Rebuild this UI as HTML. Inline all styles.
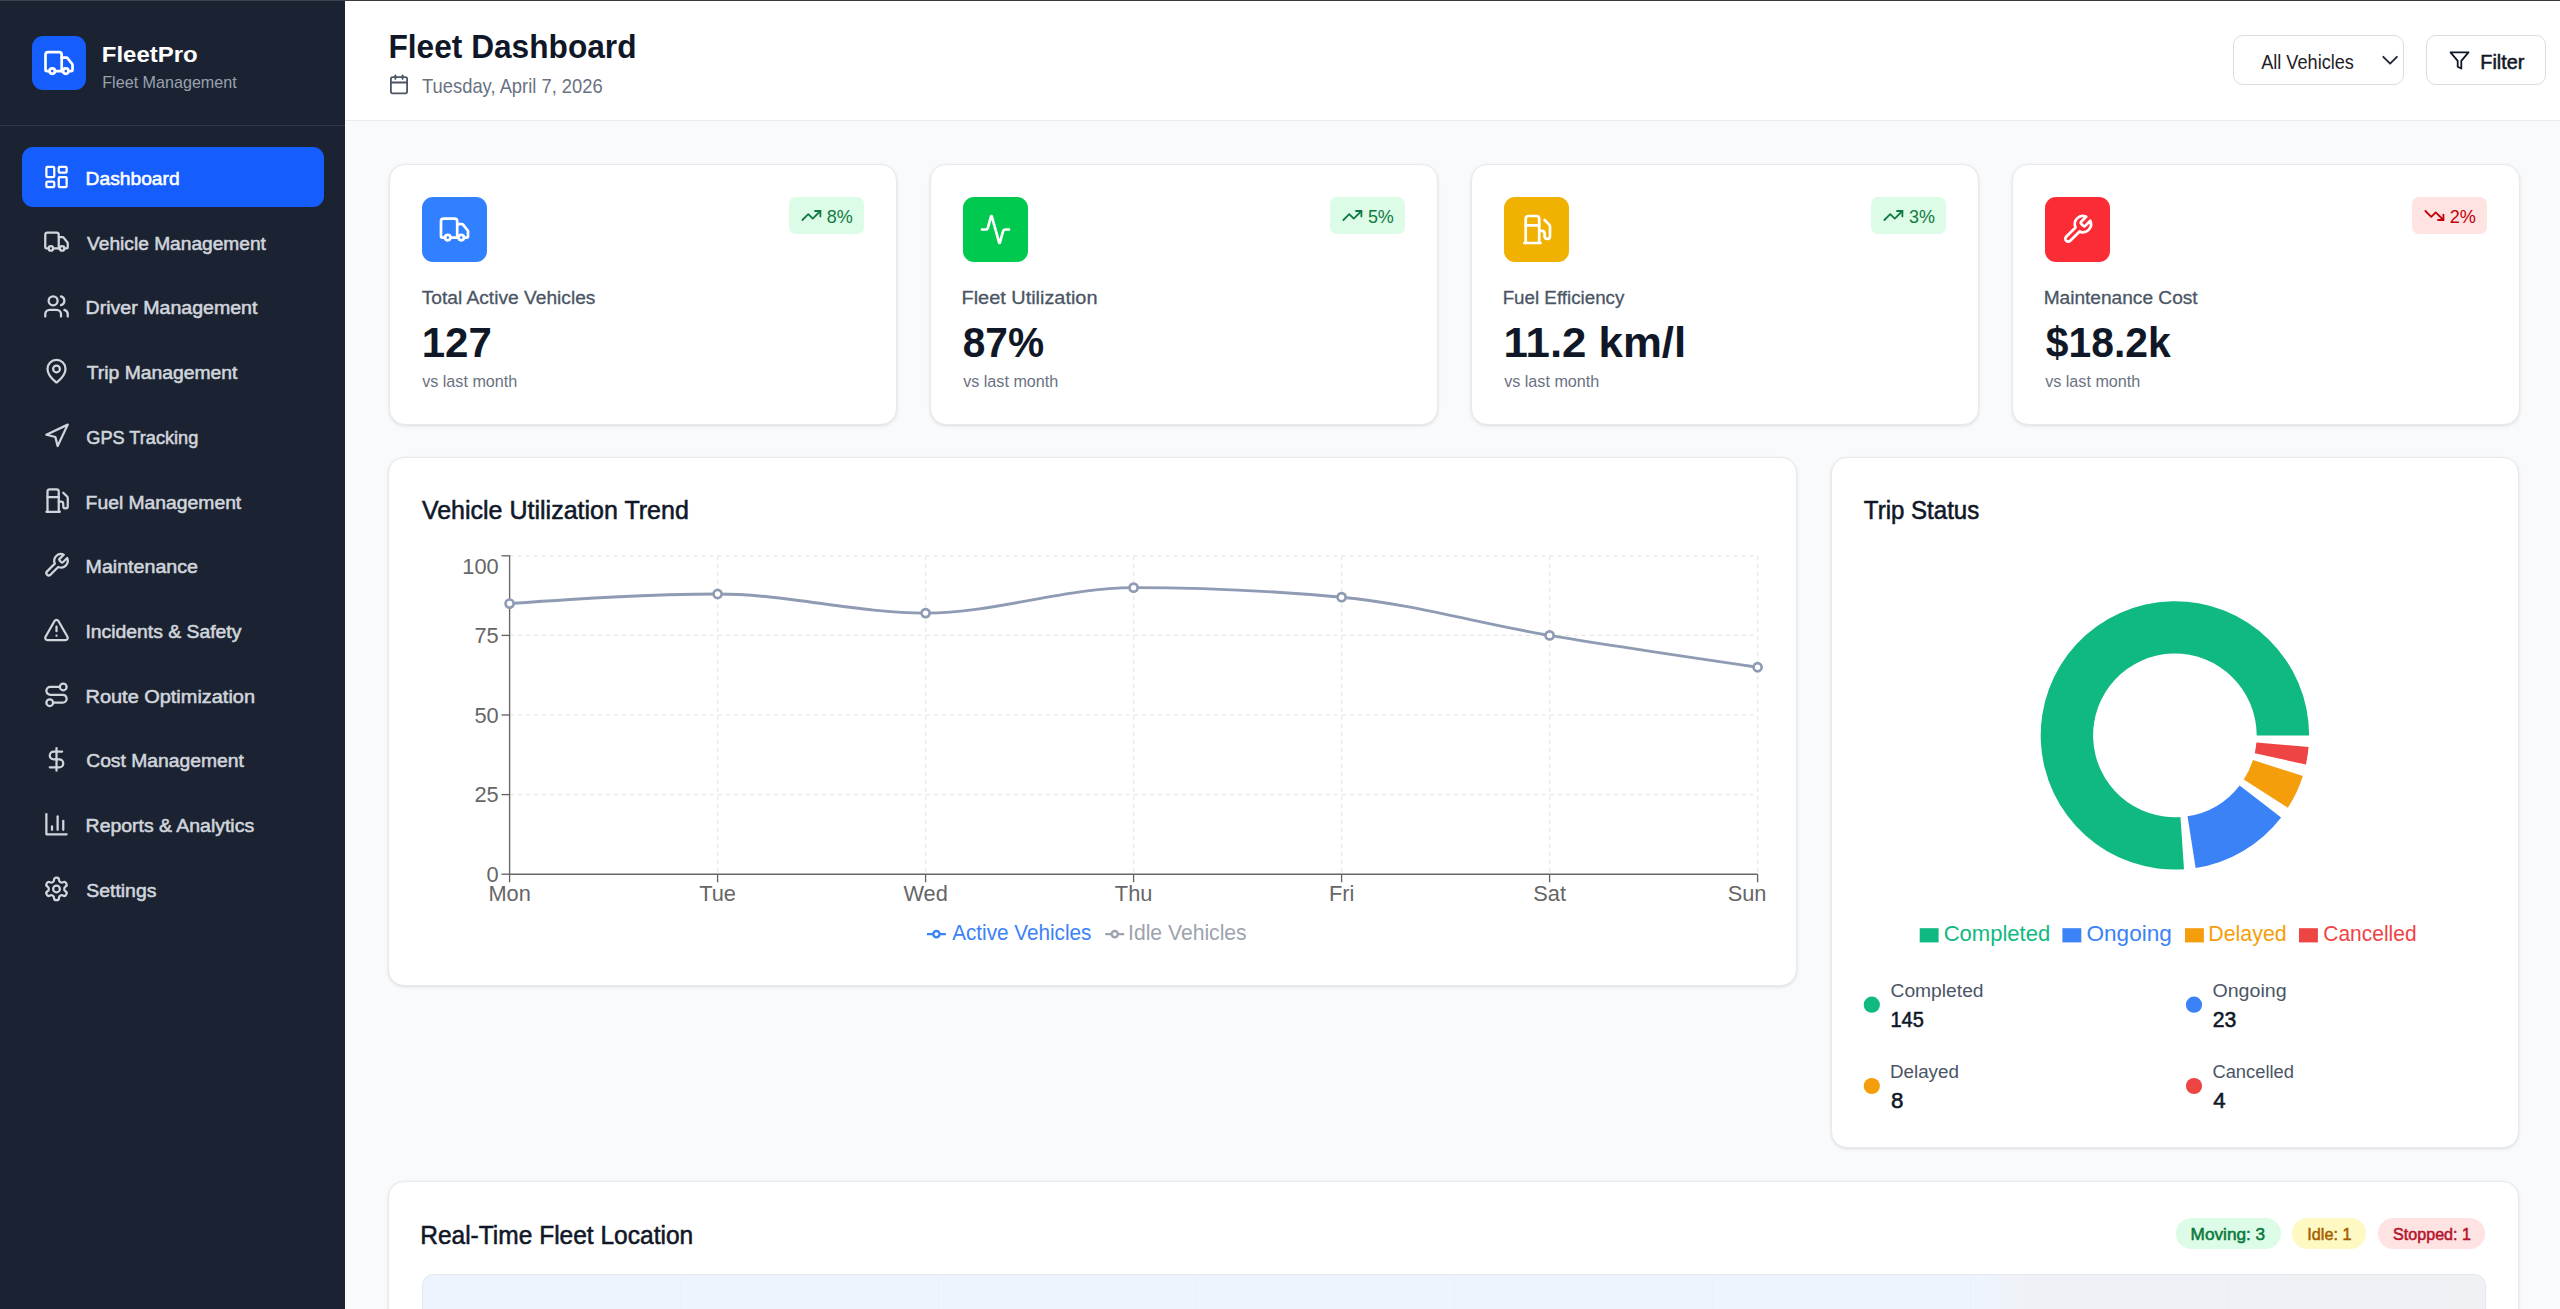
<!DOCTYPE html>
<html><head><meta charset="utf-8"><title>FleetPro - Fleet Dashboard</title>
<style>
html,body{margin:0;padding:0;width:2560px;height:1309px;overflow:hidden;background:#f9fafb}
.a{position:absolute}
svg#o{position:absolute;left:0;top:0;font-family:"Liberation Sans",Arial,sans-serif}
</style></head><body>
<div class="a" style="left:0px;top:0px;width:345px;height:1309px;background:#1b2332"></div>
<div class="a" style="left:0px;top:125px;width:345px;height:1px;background:#2e3846"></div>
<div class="a" style="left:0px;top:0px;width:345px;height:1px;background:#3c4250"></div>
<div class="a" style="left:345px;top:0px;width:2215px;height:120px;background:#ffffff"></div>
<div class="a" style="left:345px;top:120px;width:2215px;height:1px;background:#e9eaec"></div>
<div class="a" style="left:345px;top:0px;width:2215px;height:1px;background:#3a3a3a"></div>
<div class="a" style="left:32px;top:36px;width:54px;height:54px;background:#155dfc;border-radius:11px"></div>
<div class="a" style="left:21.5px;top:147.3px;width:302.2px;height:59.5px;background:#155dfc;border-radius:11px"></div>
<div class="a" style="left:2233px;top:35px;width:171px;height:50px;background:#fff;border:1px solid #dadcdf;border-radius:10px;box-sizing:border-box"></div>
<div class="a" style="left:2426px;top:35px;width:120px;height:50px;background:#fff;border:1px solid #dadcdf;border-radius:10px;box-sizing:border-box"></div>
<div class="a" style="left:388.5px;top:164px;width:508.5px;height:261px;background:#fff;border:1px solid #e8e9ec;border-radius:16px;box-sizing:border-box;box-shadow:0 1px 4px rgba(0,0,0,.07),0 1px 2px rgba(0,0,0,.05)"></div>
<div class="a" style="left:929.5px;top:164px;width:508.5px;height:261px;background:#fff;border:1px solid #e8e9ec;border-radius:16px;box-sizing:border-box;box-shadow:0 1px 4px rgba(0,0,0,.07),0 1px 2px rgba(0,0,0,.05)"></div>
<div class="a" style="left:1470.5px;top:164px;width:508.5px;height:261px;background:#fff;border:1px solid #e8e9ec;border-radius:16px;box-sizing:border-box;box-shadow:0 1px 4px rgba(0,0,0,.07),0 1px 2px rgba(0,0,0,.05)"></div>
<div class="a" style="left:2011.5px;top:164px;width:508.5px;height:261px;background:#fff;border:1px solid #e8e9ec;border-radius:16px;box-sizing:border-box;box-shadow:0 1px 4px rgba(0,0,0,.07),0 1px 2px rgba(0,0,0,.05)"></div>
<div class="a" style="left:388px;top:457px;width:1409px;height:529px;background:#fff;border:1px solid #e8e9ec;border-radius:16px;box-sizing:border-box;box-shadow:0 1px 4px rgba(0,0,0,.07),0 1px 2px rgba(0,0,0,.05)"></div>
<div class="a" style="left:1831px;top:457px;width:688px;height:691px;background:#fff;border:1px solid #e8e9ec;border-radius:16px;box-sizing:border-box;box-shadow:0 1px 4px rgba(0,0,0,.07),0 1px 2px rgba(0,0,0,.05)"></div>
<div class="a" style="left:388px;top:1181px;width:2131px;height:220px;background:#fff;border:1px solid #e8e9ec;border-radius:16px;box-sizing:border-box;box-shadow:0 1px 4px rgba(0,0,0,.07),0 1px 2px rgba(0,0,0,.05)"></div>
<div class="a" style="left:422px;top:197px;width:65px;height:65px;background:#3080ff;border-radius:11px"></div>
<div class="a" style="left:789.3px;top:196.6px;width:74.5px;height:37.2px;background:#dcfce7;border-radius:7px"></div>
<div class="a" style="left:963px;top:197px;width:65px;height:65px;background:#00c950;border-radius:11px"></div>
<div class="a" style="left:1330.3px;top:196.6px;width:74.5px;height:37.2px;background:#dcfce7;border-radius:7px"></div>
<div class="a" style="left:1504px;top:197px;width:65px;height:65px;background:#f0b100;border-radius:11px"></div>
<div class="a" style="left:1871.3px;top:196.6px;width:74.5px;height:37.2px;background:#dcfce7;border-radius:7px"></div>
<div class="a" style="left:2045px;top:197px;width:65px;height:65px;background:#fb2c36;border-radius:11px"></div>
<div class="a" style="left:2412.3px;top:196.6px;width:74.5px;height:37.2px;background:#ffe2e2;border-radius:7px"></div>
<div class="a" style="left:2175.5px;top:1217.6px;width:105.1px;height:31.4px;background:#dcfce7;border-radius:16px"></div>
<div class="a" style="left:2291.9px;top:1217.6px;width:74.1px;height:31.4px;background:#fef9c2;border-radius:16px"></div>
<div class="a" style="left:2377.6px;top:1217.6px;width:107.8px;height:31.4px;background:#ffe2e2;border-radius:16px"></div>
<div class="a" style="left:422px;top:1274px;width:2064px;height:80px;background:linear-gradient(90deg,#eef4fe 0%,#eef4fe 75.3%,#eff1f6 77.5%,#f0f1f5 100%);border-radius:11px;border:1px solid #e6e9ef;box-sizing:border-box"></div>
<div class="a" style="left:680px;top:1276px;width:1.3px;height:60px;background:rgba(120,130,160,0.035)"></div>
<div class="a" style="left:938px;top:1276px;width:1.3px;height:60px;background:rgba(120,130,160,0.035)"></div>
<div class="a" style="left:1196px;top:1276px;width:1.3px;height:60px;background:rgba(120,130,160,0.035)"></div>
<div class="a" style="left:1454px;top:1276px;width:1.3px;height:60px;background:rgba(120,130,160,0.035)"></div>
<div class="a" style="left:1712px;top:1276px;width:1.3px;height:60px;background:rgba(120,130,160,0.035)"></div>
<div class="a" style="left:1970px;top:1276px;width:1.3px;height:60px;background:rgba(120,130,160,0.035)"></div>
<div class="a" style="left:2228px;top:1276px;width:1.3px;height:60px;background:rgba(120,130,160,0.035)"></div>
<svg id="o" width="2560" height="1309" viewBox="0 0 2560 1309">
<g transform="translate(43.00,163.50) scale(1.1250)" fill="none" stroke="#ffffff" stroke-width="2" stroke-linecap="round" stroke-linejoin="round"><rect width="7" height="9" x="3" y="3" rx="1"/><rect width="7" height="5" x="14" y="3" rx="1"/><rect width="7" height="9" x="14" y="12" rx="1"/><rect width="7" height="5" x="3" y="16" rx="1"/></g>
<g transform="translate(43.00,228.22) scale(1.1250)" fill="none" stroke="#d1d5dc" stroke-width="2" stroke-linecap="round" stroke-linejoin="round"><path d="M14 18V6a2 2 0 0 0-2-2H4a2 2 0 0 0-2 2v11a1 1 0 0 0 1 1h2"/><path d="M15 18H9"/><path d="M19 18h2a1 1 0 0 0 1-1v-3.65a1 1 0 0 0-.22-.624l-3.48-4.35A1 1 0 0 0 17.52 8H14"/><circle cx="17" cy="18" r="2"/><circle cx="7" cy="18" r="2"/></g>
<g transform="translate(43.00,292.94) scale(1.1250)" fill="none" stroke="#d1d5dc" stroke-width="2" stroke-linecap="round" stroke-linejoin="round"><path d="M16 21v-2a4 4 0 0 0-4-4H6a4 4 0 0 0-4 4v2"/><circle cx="9" cy="7" r="4"/><path d="M22 21v-2a4 4 0 0 0-3-3.87"/><path d="M16 3.13a4 4 0 0 1 0 7.75"/></g>
<g transform="translate(43.00,357.66) scale(1.1250)" fill="none" stroke="#d1d5dc" stroke-width="2" stroke-linecap="round" stroke-linejoin="round"><path d="M20 10c0 4.993-5.539 10.193-7.399 11.799a1 1 0 0 1-1.202 0C9.539 20.193 4 14.993 4 10a8 8 0 0 1 16 0"/><circle cx="12" cy="10" r="3"/></g>
<g transform="translate(43.00,422.38) scale(1.1250)" fill="none" stroke="#d1d5dc" stroke-width="2" stroke-linecap="round" stroke-linejoin="round"><polygon points="3 11 22 2 13 21 11 13 3 11"/></g>
<g transform="translate(43.00,487.10) scale(1.1250)" fill="none" stroke="#d1d5dc" stroke-width="2" stroke-linecap="round" stroke-linejoin="round"><line x1="3" x2="15" y1="22" y2="22"/><line x1="4" x2="14" y1="9" y2="9"/><path d="M14 22V4a2 2 0 0 0-2-2H6a2 2 0 0 0-2 2v18"/><path d="M14 13h2a2 2 0 0 1 2 2v2a2 2 0 0 0 2 2a2 2 0 0 0 2-2V9.83a2 2 0 0 0-.59-1.42L18 5"/></g>
<g transform="translate(43.00,551.82) scale(1.1250)" fill="none" stroke="#d1d5dc" stroke-width="2" stroke-linecap="round" stroke-linejoin="round"><path d="M14.7 6.3a1 1 0 0 0 0 1.4l1.6 1.6a1 1 0 0 0 1.4 0l3.77-3.77a6 6 0 0 1-7.94 7.94l-6.91 6.91a2.12 2.12 0 0 1-3-3l6.91-6.91a6 6 0 0 1 7.94-7.94l-3.76 3.76z"/></g>
<g transform="translate(43.00,616.54) scale(1.1250)" fill="none" stroke="#d1d5dc" stroke-width="2" stroke-linecap="round" stroke-linejoin="round"><path d="m21.73 18-8-14a2 2 0 0 0-3.48 0l-8 14A2 2 0 0 0 4 21h16a2 2 0 0 0 1.73-3"/><path d="M12 9v4"/><path d="M12 17h.01"/></g>
<g transform="translate(43.00,681.26) scale(1.1250)" fill="none" stroke="#d1d5dc" stroke-width="2" stroke-linecap="round" stroke-linejoin="round"><circle cx="6" cy="19" r="3"/><path d="M9 19h8.5a3.5 3.5 0 0 0 0-7h-11a3.5 3.5 0 0 1 0-7H15"/><circle cx="18" cy="5" r="3"/></g>
<g transform="translate(43.00,745.98) scale(1.1250)" fill="none" stroke="#d1d5dc" stroke-width="2" stroke-linecap="round" stroke-linejoin="round"><line x1="12" x2="12" y1="2" y2="22"/><path d="M17 5H9.5a3.5 3.5 0 0 0 0 7h5a3.5 3.5 0 0 1 0 7H6"/></g>
<g transform="translate(43.00,810.70) scale(1.1250)" fill="none" stroke="#d1d5dc" stroke-width="2" stroke-linecap="round" stroke-linejoin="round"><path d="M3 3v18h18"/><path d="M18 17V9"/><path d="M13 17V5"/><path d="M8 17v-3"/></g>
<g transform="translate(43.00,875.42) scale(1.1250)" fill="none" stroke="#d1d5dc" stroke-width="2" stroke-linecap="round" stroke-linejoin="round"><path d="M12.22 2h-.44a2 2 0 0 0-2 2v.18a2 2 0 0 1-1 1.73l-.43.25a2 2 0 0 1-2 0l-.15-.08a2 2 0 0 0-2.73.73l-.22.38a2 2 0 0 0 .73 2.73l.15.1a2 2 0 0 1 1 1.72v.51a2 2 0 0 1-1 1.74l-.15.09a2 2 0 0 0-.73 2.73l.22.38a2 2 0 0 0 2.73.73l.15-.08a2 2 0 0 1 2 0l.43.25a2 2 0 0 1 1 1.73V20a2 2 0 0 0 2 2h.44a2 2 0 0 0 2-2v-.18a2 2 0 0 1 1-1.73l.43-.25a2 2 0 0 1 2 0l.15.08a2 2 0 0 0 2.73-.73l.22-.39a2 2 0 0 0-.73-2.73l-.15-.08a2 2 0 0 1-1-1.74v-.5a2 2 0 0 1 1-1.74l.15-.09a2 2 0 0 0 .73-2.73l-.22-.38a2 2 0 0 0-2.73-.73l-.15.08a2 2 0 0 1-2 0l-.43-.25a2 2 0 0 1-1-1.73V4a2 2 0 0 0-2-2z"/><circle cx="12" cy="12" r="3"/></g>
<g transform="translate(42.80,46.80) scale(1.3500)" fill="none" stroke="#ffffff" stroke-width="2" stroke-linecap="round" stroke-linejoin="round"><path d="M14 18V6a2 2 0 0 0-2-2H4a2 2 0 0 0-2 2v11a1 1 0 0 0 1 1h2"/><path d="M15 18H9"/><path d="M19 18h2a1 1 0 0 0 1-1v-3.65a1 1 0 0 0-.22-.624l-3.48-4.35A1 1 0 0 0 17.52 8H14"/><circle cx="17" cy="18" r="2"/><circle cx="7" cy="18" r="2"/></g>
<g transform="translate(388.20,73.50) scale(0.9000)" fill="none" stroke="#4a5565" stroke-width="2" stroke-linecap="round" stroke-linejoin="round"><path d="M8 2v4"/><path d="M16 2v4"/><rect width="18" height="18" x="3" y="4" rx="2"/><path d="M3 10h18"/></g>
<g transform="translate(2448.70,49.60) scale(0.9000)" fill="none" stroke="#101828" stroke-width="2" stroke-linecap="round" stroke-linejoin="round"><polygon points="22 3 2 3 10 12.46 10 19 14 21 14 12.46 22 3"/></g>
<polyline points="2383.3,56.8 2390.1,63.6 2396.9,56.8" fill="none" stroke="#1e2939" stroke-width="1.9" stroke-linecap="round" stroke-linejoin="round"/>
<g transform="translate(438.30,213.30) scale(1.3500)" fill="none" stroke="#ffffff" stroke-width="2" stroke-linecap="round" stroke-linejoin="round"><path d="M14 18V6a2 2 0 0 0-2-2H4a2 2 0 0 0-2 2v11a1 1 0 0 0 1 1h2"/><path d="M15 18H9"/><path d="M19 18h2a1 1 0 0 0 1-1v-3.65a1 1 0 0 0-.22-.624l-3.48-4.35A1 1 0 0 0 17.52 8H14"/><circle cx="17" cy="18" r="2"/><circle cx="7" cy="18" r="2"/></g>
<g transform="translate(800.60,204.70) scale(0.9000)" fill="none" stroke="#117a43" stroke-width="2" stroke-linecap="round" stroke-linejoin="round"><polyline points="22 7 13.5 15.5 8.5 10.5 2 17"/><polyline points="16 7 22 7 22 13"/></g>
<g transform="translate(979.30,213.30) scale(1.3500)" fill="none" stroke="#ffffff" stroke-width="2" stroke-linecap="round" stroke-linejoin="round"><path d="M22 12h-2.48a2 2 0 0 0-1.93 1.46l-2.35 8.36a.25.25 0 0 1-.48 0L9.24 2.18a.25.25 0 0 0-.48 0l-2.35 8.36A2 2 0 0 1 4.49 12H2"/></g>
<g transform="translate(1341.60,204.70) scale(0.9000)" fill="none" stroke="#117a43" stroke-width="2" stroke-linecap="round" stroke-linejoin="round"><polyline points="22 7 13.5 15.5 8.5 10.5 2 17"/><polyline points="16 7 22 7 22 13"/></g>
<g transform="translate(1520.30,213.30) scale(1.3500)" fill="none" stroke="#ffffff" stroke-width="2" stroke-linecap="round" stroke-linejoin="round"><line x1="3" x2="15" y1="22" y2="22"/><line x1="4" x2="14" y1="9" y2="9"/><path d="M14 22V4a2 2 0 0 0-2-2H6a2 2 0 0 0-2 2v18"/><path d="M14 13h2a2 2 0 0 1 2 2v2a2 2 0 0 0 2 2a2 2 0 0 0 2-2V9.83a2 2 0 0 0-.59-1.42L18 5"/></g>
<g transform="translate(1882.60,204.70) scale(0.9000)" fill="none" stroke="#117a43" stroke-width="2" stroke-linecap="round" stroke-linejoin="round"><polyline points="22 7 13.5 15.5 8.5 10.5 2 17"/><polyline points="16 7 22 7 22 13"/></g>
<g transform="translate(2061.30,213.30) scale(1.3500)" fill="none" stroke="#ffffff" stroke-width="2" stroke-linecap="round" stroke-linejoin="round"><path d="M14.7 6.3a1 1 0 0 0 0 1.4l1.6 1.6a1 1 0 0 0 1.4 0l3.77-3.77a6 6 0 0 1-7.94 7.94l-6.91 6.91a2.12 2.12 0 0 1-3-3l6.91-6.91a6 6 0 0 1 7.94-7.94l-3.76 3.76z"/></g>
<g transform="translate(2423.60,204.70) scale(0.9000)" fill="none" stroke="#c10007" stroke-width="2" stroke-linecap="round" stroke-linejoin="round"><polyline points="22 17 13.5 8.5 8.5 13.5 2 7"/><polyline points="16 17 22 17 22 11"/></g>
<g stroke="#e6e6e6" stroke-width="1.2" stroke-dasharray="4 4"><line x1="509.6" y1="794.60" x2="1757.6" y2="794.60"/><line x1="509.6" y1="715.00" x2="1757.6" y2="715.00"/><line x1="509.6" y1="635.40" x2="1757.6" y2="635.40"/><line x1="509.6" y1="555.80" x2="1757.6" y2="555.80"/><line x1="509.60" y1="555.80" x2="509.60" y2="874.2"/><line x1="717.60" y1="555.80" x2="717.60" y2="874.2"/><line x1="925.60" y1="555.80" x2="925.60" y2="874.2"/><line x1="1133.60" y1="555.80" x2="1133.60" y2="874.2"/><line x1="1341.60" y1="555.80" x2="1341.60" y2="874.2"/><line x1="1549.60" y1="555.80" x2="1549.60" y2="874.2"/><line x1="1757.60" y1="555.80" x2="1757.60" y2="874.2"/></g>
<g stroke="#666666" stroke-width="1.35"><line x1="509.6" y1="555.30" x2="509.6" y2="874.2"/><line x1="509.6" y1="874.2" x2="1757.6" y2="874.2"/><line x1="501.50" y1="874.20" x2="509.6" y2="874.20"/><line x1="501.50" y1="794.60" x2="509.6" y2="794.60"/><line x1="501.50" y1="715.00" x2="509.6" y2="715.00"/><line x1="501.50" y1="635.40" x2="509.6" y2="635.40"/><line x1="501.50" y1="555.80" x2="509.6" y2="555.80"/><line x1="509.60" y1="874.2" x2="509.60" y2="882.30"/><line x1="717.60" y1="874.2" x2="717.60" y2="882.30"/><line x1="925.60" y1="874.2" x2="925.60" y2="882.30"/><line x1="1133.60" y1="874.2" x2="1133.60" y2="882.30"/><line x1="1341.60" y1="874.2" x2="1341.60" y2="882.30"/><line x1="1549.60" y1="874.2" x2="1549.60" y2="882.30"/><line x1="1757.60" y1="874.2" x2="1757.60" y2="882.30"/></g>
<path d="M509.60,603.56C578.93,598.78,648.27,594.01,717.60,594.01C786.93,594.01,856.27,613.11,925.60,613.11C994.93,613.11,1064.27,587.64,1133.60,587.64C1202.93,587.64,1272.27,590.82,1341.60,597.19C1410.93,603.56,1480.27,623.73,1549.60,635.40C1618.93,647.07,1688.27,657.16,1757.60,667.24" fill="none" stroke="#8f9bb3" stroke-width="2.9"/>
<circle cx="509.60" cy="603.56" r="4.05" fill="#fff" stroke="#8f9bb3" stroke-width="2.7"/>
<circle cx="717.60" cy="594.01" r="4.05" fill="#fff" stroke="#8f9bb3" stroke-width="2.7"/>
<circle cx="925.60" cy="613.11" r="4.05" fill="#fff" stroke="#8f9bb3" stroke-width="2.7"/>
<circle cx="1133.60" cy="587.64" r="4.05" fill="#fff" stroke="#8f9bb3" stroke-width="2.7"/>
<circle cx="1341.60" cy="597.19" r="4.05" fill="#fff" stroke="#8f9bb3" stroke-width="2.7"/>
<circle cx="1549.60" cy="635.40" r="4.05" fill="#fff" stroke="#8f9bb3" stroke-width="2.7"/>
<circle cx="1757.60" cy="667.24" r="4.05" fill="#fff" stroke="#8f9bb3" stroke-width="2.7"/>
<g transform="translate(927.00,924.65) scale(0.5906)"><path stroke-width="4" fill="none" stroke="#3b82f6" d="M0,16h10.666666666666666A5.333333333333333,5.333333333333333,0,1,1,21.333333333333332,16H32M21.333333333333332,16A5.333333333333333,5.333333333333333,0,1,1,10.666666666666666,16"/></g>
<g transform="translate(1105.30,924.65) scale(0.5906)"><path stroke-width="4" fill="none" stroke="#9ca3af" d="M0,16h10.666666666666666A5.333333333333333,5.333333333333333,0,1,1,21.333333333333332,16H32M21.333333333333332,16A5.333333333333333,5.333333333333333,0,1,1,10.666666666666666,16"/></g>
<path d="M2309.10,735.40A134.2,134.2,0,1,0,2184.00,869.29L2180.45,817.01A81.8,81.8,0,1,1,2256.70,735.40Z" fill="#10b981"/>
<path d="M2195.64,867.99A134.2,134.2,0,0,0,2281.13,817.41L2239.65,785.39A81.8,81.8,0,0,1,2187.54,816.22Z" fill="#3b82f6"/>
<path d="M2287.87,807.83A134.2,134.2,0,0,0,2302.85,775.88L2252.89,760.07A81.8,81.8,0,0,1,2243.76,779.55Z" fill="#f59e0b"/>
<path d="M2305.89,764.57A134.2,134.2,0,0,0,2308.59,747.10L2256.39,742.53A81.8,81.8,0,0,1,2254.74,753.18Z" fill="#ef4444"/>
<rect x="1919.7" y="928.2" width="18.9" height="14.2" fill="#10b981"/>
<rect x="2062.4" y="928.2" width="18.9" height="14.2" fill="#3b82f6"/>
<rect x="2185.0" y="928.2" width="18.9" height="14.2" fill="#f59e0b"/>
<rect x="2299.0" y="928.2" width="18.9" height="14.2" fill="#ef4444"/>
<circle cx="1871.8" cy="1004.7" r="8.1" fill="#10b981"/>
<circle cx="2194.0" cy="1004.7" r="8.1" fill="#3b82f6"/>
<circle cx="1871.8" cy="1086.0" r="8.1" fill="#f59e0b"/>
<circle cx="2194.0" cy="1086.0" r="8.1" fill="#ef4444"/>
<text x="101.80" y="62.20" font-size="21.8" font-weight="700" fill="#ffffff" textLength="95.84" lengthAdjust="spacingAndGlyphs">FleetPro</text>
<text x="102.28" y="87.70" font-size="15.99" fill="#99a1af" textLength="134.44" lengthAdjust="spacingAndGlyphs">Fleet Management</text>
<text x="85.62" y="185.00" font-size="18.9" stroke="#ffffff" stroke-width="0.55" fill="#ffffff" textLength="94.02" lengthAdjust="spacingAndGlyphs">Dashboard</text>
<text x="87.12" y="249.72" font-size="18.9" stroke="#d1d5dc" stroke-width="0.55" fill="#d1d5dc" textLength="178.82" lengthAdjust="spacingAndGlyphs">Vehicle Management</text>
<text x="85.59" y="314.44" font-size="18.9" stroke="#d1d5dc" stroke-width="0.55" fill="#d1d5dc" textLength="171.85" lengthAdjust="spacingAndGlyphs">Driver Management</text>
<text x="86.77" y="379.16" font-size="18.9" stroke="#d1d5dc" stroke-width="0.55" fill="#d1d5dc" textLength="150.68" lengthAdjust="spacingAndGlyphs">Trip Management</text>
<text x="86.29" y="443.88" font-size="18.9" stroke="#d1d5dc" stroke-width="0.55" fill="#d1d5dc" textLength="111.98" lengthAdjust="spacingAndGlyphs">GPS Tracking</text>
<text x="85.62" y="508.60" font-size="18.9" stroke="#d1d5dc" stroke-width="0.55" fill="#d1d5dc" textLength="155.63" lengthAdjust="spacingAndGlyphs">Fuel Management</text>
<text x="85.59" y="573.32" font-size="18.9" stroke="#d1d5dc" stroke-width="0.55" fill="#d1d5dc" textLength="112.38" lengthAdjust="spacingAndGlyphs">Maintenance</text>
<text x="85.41" y="638.04" font-size="18.9" stroke="#d1d5dc" stroke-width="0.55" fill="#d1d5dc" textLength="156.03" lengthAdjust="spacingAndGlyphs">Incidents &amp; Safety</text>
<text x="85.56" y="702.76" font-size="18.9" stroke="#d1d5dc" stroke-width="0.55" fill="#d1d5dc" textLength="169.43" lengthAdjust="spacingAndGlyphs">Route Optimization</text>
<text x="86.22" y="767.48" font-size="18.9" stroke="#d1d5dc" stroke-width="0.55" fill="#d1d5dc" textLength="157.52" lengthAdjust="spacingAndGlyphs">Cost Management</text>
<text x="85.61" y="832.20" font-size="18.9" stroke="#d1d5dc" stroke-width="0.55" fill="#d1d5dc" textLength="168.50" lengthAdjust="spacingAndGlyphs">Reports &amp; Analytics</text>
<text x="86.32" y="896.92" font-size="18.9" stroke="#d1d5dc" stroke-width="0.55" fill="#d1d5dc" textLength="70.08" lengthAdjust="spacingAndGlyphs">Settings</text>
<text x="388.48" y="57.50" font-size="34.01" font-weight="700" fill="#101828" textLength="248.01" lengthAdjust="spacingAndGlyphs">Fleet Dashboard</text>
<text x="422.09" y="92.50" font-size="19.48" fill="#6a7282" textLength="180.62" lengthAdjust="spacingAndGlyphs">Tuesday, April 7, 2026</text>
<text x="2261.16" y="68.60" font-size="20.35" fill="#1f2124" textLength="92.79" lengthAdjust="spacingAndGlyphs">All Vehicles</text>
<text x="2480.37" y="68.60" font-size="20.35" stroke="#101828" stroke-width="0.55" fill="#101828" textLength="44.06" lengthAdjust="spacingAndGlyphs">Filter</text>
<text x="421.77" y="304.40" font-size="18.9" stroke="#4a5565" stroke-width="0.3" fill="#4a5565" textLength="173.62" lengthAdjust="spacingAndGlyphs">Total Active Vehicles</text>
<text x="421.65" y="357.00" font-size="43.02" font-weight="700" fill="#101828" textLength="70.20" lengthAdjust="spacingAndGlyphs">127</text>
<text x="422.14" y="386.60" font-size="17.38" fill="#6a7282" textLength="95.21" lengthAdjust="spacingAndGlyphs">vs last month</text>
<text x="826.82" y="223.40" font-size="18.6" fill="#117a43" textLength="26.02" lengthAdjust="spacingAndGlyphs">8%</text>
<text x="961.57" y="304.40" font-size="18.9" stroke="#4a5565" stroke-width="0.3" fill="#4a5565" textLength="135.92" lengthAdjust="spacingAndGlyphs">Fleet Utilization</text>
<text x="962.71" y="357.00" font-size="43.02" font-weight="700" fill="#101828" textLength="81.36" lengthAdjust="spacingAndGlyphs">87%</text>
<text x="963.14" y="386.60" font-size="17.38" fill="#6a7282" textLength="95.21" lengthAdjust="spacingAndGlyphs">vs last month</text>
<text x="1367.88" y="223.40" font-size="18.6" fill="#117a43" textLength="25.96" lengthAdjust="spacingAndGlyphs">5%</text>
<text x="1502.66" y="304.40" font-size="18.9" stroke="#4a5565" stroke-width="0.3" fill="#4a5565" textLength="121.68" lengthAdjust="spacingAndGlyphs">Fuel Efficiency</text>
<text x="1503.64" y="357.00" font-size="43.02" font-weight="700" fill="#101828" textLength="182.56" lengthAdjust="spacingAndGlyphs">11.2 km/l</text>
<text x="1504.14" y="386.60" font-size="17.38" fill="#6a7282" textLength="95.21" lengthAdjust="spacingAndGlyphs">vs last month</text>
<text x="1908.92" y="223.40" font-size="18.6" fill="#117a43" textLength="25.92" lengthAdjust="spacingAndGlyphs">3%</text>
<text x="2043.63" y="304.40" font-size="18.9" stroke="#4a5565" stroke-width="0.3" fill="#4a5565" textLength="154.01" lengthAdjust="spacingAndGlyphs">Maintenance Cost</text>
<text x="2045.86" y="357.00" font-size="43.02" font-weight="700" fill="#101828" textLength="124.90" lengthAdjust="spacingAndGlyphs">$18.2k</text>
<text x="2045.14" y="386.60" font-size="17.38" fill="#6a7282" textLength="95.21" lengthAdjust="spacingAndGlyphs">vs last month</text>
<text x="2449.69" y="223.40" font-size="18.6" fill="#c10007" textLength="26.16" lengthAdjust="spacingAndGlyphs">2%</text>
<text x="421.89" y="519.20" font-size="25.15" stroke="#101828" stroke-width="0.55" fill="#101828" textLength="266.92" lengthAdjust="spacingAndGlyphs">Vehicle Utilization Trend</text>
<text x="498.65" y="573.70" font-size="21.8" fill="#666666" text-anchor="end">100</text>
<text x="498.72" y="643.30" font-size="21.8" fill="#666666" text-anchor="end">75</text>
<text x="498.65" y="722.80" font-size="21.8" fill="#666666" text-anchor="end">50</text>
<text x="498.72" y="802.30" font-size="21.8" fill="#666666" text-anchor="end">25</text>
<text x="498.65" y="881.50" font-size="21.8" fill="#666666" text-anchor="end">0</text>
<text x="509.60" y="900.60" font-size="21.8" fill="#666666" text-anchor="middle">Mon</text>
<text x="717.60" y="900.60" font-size="21.8" fill="#666666" text-anchor="middle">Tue</text>
<text x="925.60" y="900.60" font-size="21.8" fill="#666666" text-anchor="middle">Wed</text>
<text x="1133.60" y="900.60" font-size="21.8" fill="#666666" text-anchor="middle">Thu</text>
<text x="1341.60" y="900.60" font-size="21.8" fill="#666666" text-anchor="middle">Fri</text>
<text x="1549.60" y="900.60" font-size="21.8" fill="#666666" text-anchor="middle">Sat</text>
<text x="1747.10" y="900.60" font-size="21.8" fill="#666666" text-anchor="middle">Sun</text>
<text x="952.16" y="939.80" font-size="21.66" fill="#3b82f6" textLength="139.29" lengthAdjust="spacingAndGlyphs">Active Vehicles</text>
<text x="1128.05" y="939.80" font-size="21.66" fill="#9ca3af" textLength="118.61" lengthAdjust="spacingAndGlyphs">Idle Vehicles</text>
<text x="1863.86" y="519.00" font-size="25.0" stroke="#101828" stroke-width="0.55" fill="#101828" textLength="115.41" lengthAdjust="spacingAndGlyphs">Trip Status</text>
<text x="1943.68" y="940.50" font-size="22.24" fill="#10b981" textLength="106.54" lengthAdjust="spacingAndGlyphs">Completed</text>
<text x="2086.53" y="940.50" font-size="22.24" fill="#3b82f6" textLength="85.32" lengthAdjust="spacingAndGlyphs">Ongoing</text>
<text x="2208.25" y="940.50" font-size="22.24" fill="#f59e0b" textLength="78.43" lengthAdjust="spacingAndGlyphs">Delayed</text>
<text x="2323.34" y="940.50" font-size="22.24" fill="#ef4444" textLength="93.22" lengthAdjust="spacingAndGlyphs">Cancelled</text>
<text x="1890.52" y="997.00" font-size="18.9" fill="#4a5565" textLength="93.02" lengthAdjust="spacingAndGlyphs">Completed</text>
<text x="1890.48" y="1027.20" font-size="21.22" stroke="#101828" stroke-width="0.55" fill="#101828" textLength="33.36" lengthAdjust="spacingAndGlyphs">145</text>
<text x="2212.47" y="997.00" font-size="18.9" fill="#4a5565" textLength="74.09" lengthAdjust="spacingAndGlyphs">Ongoing</text>
<text x="2212.83" y="1027.20" font-size="21.22" stroke="#101828" stroke-width="0.55" fill="#101828" textLength="23.60" lengthAdjust="spacingAndGlyphs">23</text>
<text x="1889.96" y="1078.30" font-size="18.9" fill="#4a5565" textLength="68.95" lengthAdjust="spacingAndGlyphs">Delayed</text>
<text x="1891.03" y="1108.40" font-size="21.22" stroke="#101828" stroke-width="0.55" fill="#101828" textLength="12.44" lengthAdjust="spacingAndGlyphs">8</text>
<text x="2212.47" y="1078.30" font-size="18.9" fill="#4a5565" textLength="81.41" lengthAdjust="spacingAndGlyphs">Cancelled</text>
<text x="2213.39" y="1108.40" font-size="21.22" stroke="#101828" stroke-width="0.55" fill="#101828" textLength="12.36" lengthAdjust="spacingAndGlyphs">4</text>
<text x="420.19" y="1243.80" font-size="25.29" stroke="#101828" stroke-width="0.55" fill="#101828" textLength="273.00" lengthAdjust="spacingAndGlyphs">Real-Time Fleet Location</text>
<text x="2190.59" y="1239.70" font-size="16.86" stroke="#0b7a3e" stroke-width="0.55" fill="#0b7a3e" textLength="74.57" lengthAdjust="spacingAndGlyphs">Moving: 3</text>
<text x="2307.30" y="1239.70" font-size="16.86" stroke="#a65f00" stroke-width="0.55" fill="#a65f00" textLength="44.19" lengthAdjust="spacingAndGlyphs">Idle: 1</text>
<text x="2393.07" y="1239.70" font-size="16.86" stroke="#b4142e" stroke-width="0.55" fill="#b4142e" textLength="77.92" lengthAdjust="spacingAndGlyphs">Stopped: 1</text>
</svg>
</body></html>
